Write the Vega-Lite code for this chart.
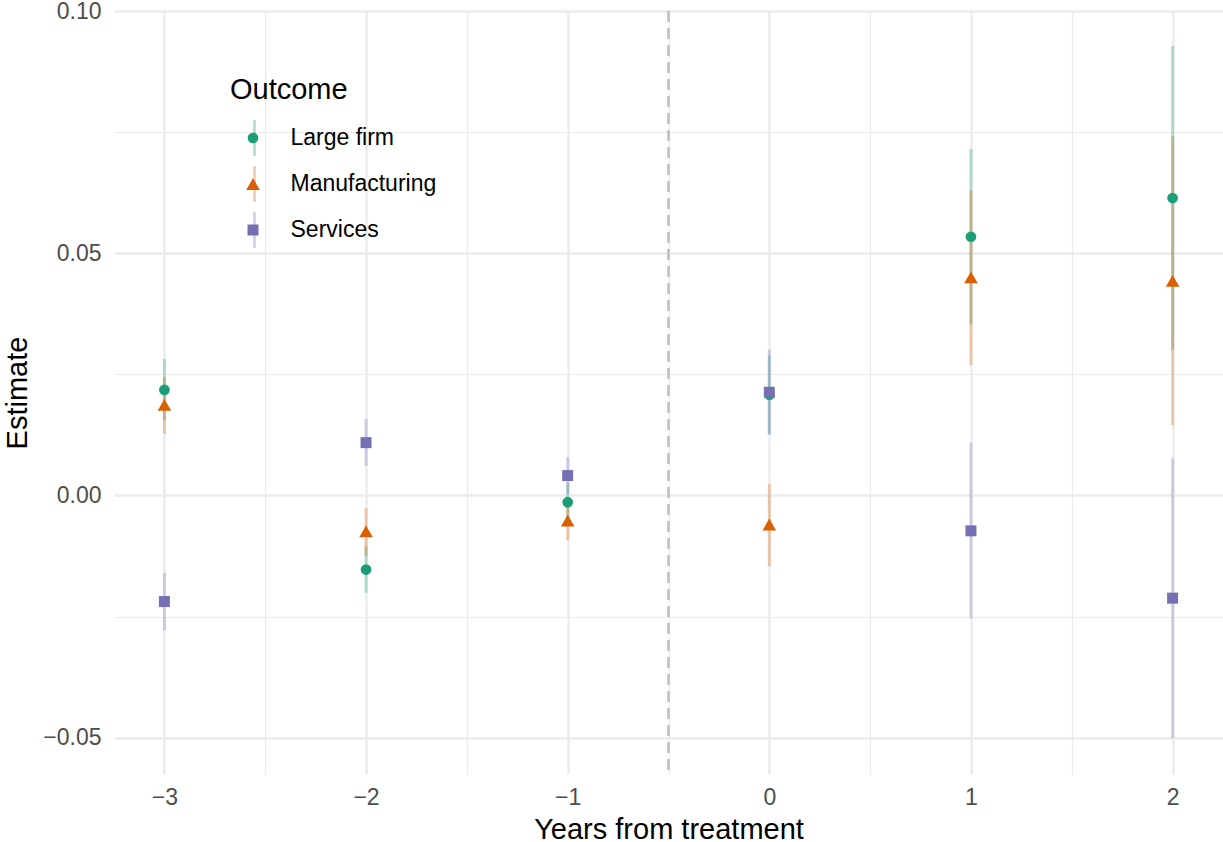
{
  "$schema": "https://vega.github.io/schema/vega-lite/v6.json",
  "width": 1109,
  "height": 763,
  "autosize": {"type": "none"},
  "padding": {"left": 114, "top": 11, "right": 0, "bottom": 68},
  "background": "white",
  "config": {
    "font": "Liberation Sans",
    "view": {"stroke": null},
    "axis": {
      "domain": false,
      "ticks": false,
      "grid": true,
      "gridColor": "#EBEBEB",
      "labelFontSize": 23,
      "labelColor": "#4D4D4D",
      "labelFlush": false,
      "labelBound": false,
      "labelOverlap": false,
      "titleFontSize": 29,
      "titleFontWeight": "normal",
      "titleColor": "black"
    }
  },
  "data": {
    "values": [
      {"year": -3, "outcome": "Large firm", "estimate": 0.0218, "lower": 0.0155, "upper": 0.0282},
      {"year": -3, "outcome": "Manufacturing", "estimate": 0.0187, "lower": 0.0127, "upper": 0.0245},
      {"year": -3, "outcome": "Services", "estimate": -0.0219, "lower": -0.0278, "upper": -0.016},
      {"year": -2, "outcome": "Large firm", "estimate": -0.0153, "lower": -0.0201, "upper": -0.0105},
      {"year": -2, "outcome": "Manufacturing", "estimate": -0.0074, "lower": -0.0124, "upper": -0.0026},
      {"year": -2, "outcome": "Services", "estimate": 0.0109, "lower": 0.0061, "upper": 0.0158},
      {"year": -1, "outcome": "Large firm", "estimate": -0.0014, "lower": -0.0054, "upper": 0.0025},
      {"year": -1, "outcome": "Manufacturing", "estimate": -0.0052, "lower": -0.0093, "upper": -0.0011},
      {"year": -1, "outcome": "Services", "estimate": 0.0041, "lower": 0.0003, "upper": 0.0079},
      {"year": 0, "outcome": "Large firm", "estimate": 0.0208, "lower": 0.0127, "upper": 0.0289},
      {"year": 0, "outcome": "Manufacturing", "estimate": -0.006, "lower": -0.0146, "upper": 0.0024},
      {"year": 0, "outcome": "Services", "estimate": 0.0213, "lower": 0.0125, "upper": 0.0301},
      {"year": 1, "outcome": "Large firm", "estimate": 0.0534, "lower": 0.0353, "upper": 0.0715},
      {"year": 1, "outcome": "Manufacturing", "estimate": 0.045, "lower": 0.0269, "upper": 0.0629},
      {"year": 1, "outcome": "Services", "estimate": -0.0073, "lower": -0.0254, "upper": 0.0109},
      {"year": 2, "outcome": "Large firm", "estimate": 0.0614, "lower": 0.03, "upper": 0.0928},
      {"year": 2, "outcome": "Manufacturing", "estimate": 0.0443, "lower": 0.0145, "upper": 0.0741},
      {"year": 2, "outcome": "Services", "estimate": -0.0212, "lower": -0.0501, "upper": 0.0077}
    ]
  },
  "encoding": {
    "x": {
      "field": "year",
      "type": "quantitative",
      "scale": {"domain": [-3.25, 2.25], "nice": false, "zero": false},
      "axis": {
        "title": "Years from treatment",
        "values": [-3, -2.5, -2, -1.5, -1, -0.5, 0, 0.5, 1, 1.5, 2],
        "labelExpr": "datum.value % 1 == 0 ? replace(format(datum.value, 'd'), '-', '\u2212') : ''",
        "labelPadding": 12,
        "titlePadding": 6,
        "gridWidth": {"condition": {"test": "datum.value % 1 == 0", "value": 2.4}, "value": 1.2}
      }
    }
  },
  "layer": [
    {
      "data": {"values": [{"year": -0.5}]},
      "mark": {"type": "rule", "color": "#BEBEBE", "strokeDash": [11, 6], "strokeWidth": 2.5},
      "encoding": {}
    },
    {
      "mark": {"type": "rule", "strokeWidth": 3, "opacity": 0.3},
      "encoding": {
        "y": {
          "field": "lower",
          "type": "quantitative",
          "scale": {"domain": [-0.0575, 0.1], "nice": false, "zero": false},
          "axis": {
            "title": "Estimate",
            "values": [-0.05, -0.025, 0, 0.025, 0.05, 0.075, 0.1],
            "labelExpr": "abs(datum.value * 20 - round(datum.value * 20)) < 0.001 ? replace(format(datum.value, '.2f'), '-', '\u2212') : ''",
            "labelPadding": 13,
            "titlePadding": 10,
            "gridWidth": {"condition": {"test": "abs(datum.value * 20 - round(datum.value * 20)) < 0.001", "value": 2.4}, "value": 1.2}
          }
        },
        "y2": {"field": "upper"},
        "stroke": {
          "field": "outcome",
          "type": "nominal",
          "scale": {"domain": ["Large firm", "Manufacturing", "Services"], "range": ["#1B9E77", "#D95F02", "#7570B3"]},
          "legend": {
            "title": null,
            "orient": "none",
            "legendX": 116,
            "legendY": 109,
            "padding": 0,
            "labelFontSize": 23,
            "labelExpr": "''",
            "symbolType": "M0,-1L0,1",
            "symbolSize": 1296,
            "symbolStrokeWidth": 3,
            "symbolOpacity": 0.3,
            "symbolOffset": 5,
            "labelOffset": 25,
            "clipHeight": 36,
            "rowPadding": 10
          }
        }
      }
    },
    {
      "mark": {"type": "point", "filled": true, "opacity": 1},
      "encoding": {
        "y": {"field": "estimate", "type": "quantitative", "title": "Estimate"},
        "color": {
          "field": "outcome",
          "type": "nominal",
          "scale": {"range": ["#1B9E77", "#D95F02", "#7570B3"]},
          "legend": {
            "title": "Outcome",
            "orient": "none",
            "legendX": 116,
            "legendY": 65,
            "padding": 0,
            "titleFontSize": 29,
            "titleFontWeight": "normal",
            "titleColor": "black",
            "titlePadding": 15,
            "labelFontSize": 23,
            "labelColor": "black",
            "symbolSize": 120,
            "symbolOpacity": 1,
            "symbolOffset": 11.5,
            "labelOffset": 26,
            "clipHeight": 36,
            "rowPadding": 10
          }
        },
        "shape": {
          "field": "outcome",
          "type": "nominal",
          "scale": {"range": ["circle", "triangle-up", "square"]}
        },
        "size": {
          "field": "outcome",
          "type": "nominal",
          "scale": {"type": "ordinal", "range": [115, 185, 121]},
          "legend": null
        }
      }
    }
  ]
}
